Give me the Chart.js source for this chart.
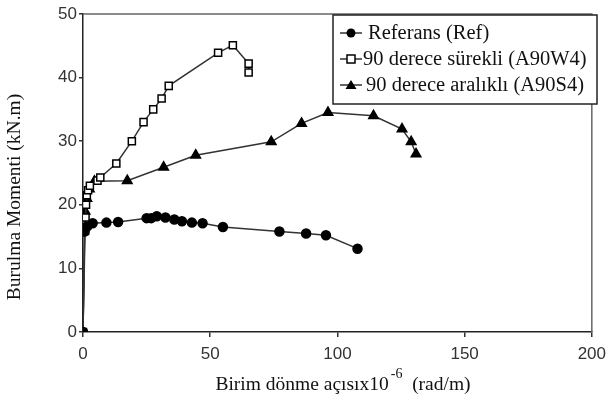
<!DOCTYPE html>
<html>
<head>
<meta charset="utf-8">
<script src="https://cdn.jsdelivr.net/npm/chart.js@4/dist/chart.umd.min.js"></script>
<style>
  html, body { margin: 0; padding: 0; background: #fff; }
  #wrap { width: 613px; height: 414px; }
</style>
</head>
<body>
<div id="wrap"><canvas id="c" width="613" height="414"></canvas></div>
<script>
// Unit rotation angle (x10^-6 rad/m) and torsional moment (kN.m) per specimen
const refX = [0, 0.6, 1.6, 3.8, 9.2, 13.8, 25.0, 26.8, 29.0, 32.4, 35.9, 38.9, 42.8, 47.0, 55.0, 77.2, 87.7, 95.5, 107.9];
const refY = [0, 15.8, 16.6, 17.1, 17.2, 17.3, 17.9, 17.9, 18.2, 18.0, 17.7, 17.4, 17.2, 17.1, 16.5, 15.8, 15.5, 15.2, 13.1];

const w4X = [0, 0.8, 1.0, 1.2, 1.5, 2.0, 2.7, 5.7, 6.8, 13.1, 19.2, 23.8, 27.6, 30.9, 33.7, 53.1, 58.9, 65.1, 65.1];
const w4Y = [0, 15.9, 18.0, 20.0, 21.5, 22.3, 23.0, 23.8, 24.3, 26.5, 30.0, 33.0, 35.0, 36.7, 38.7, 43.9, 45.1, 42.2, 40.8];

const s4X = [0, 0.8, 1.5, 2.5, 4.5, 17.4, 31.7, 44.3, 74.0, 85.9, 96.3, 114.2, 125.4, 129.0, 130.9];
const s4Y = [0, 19.0, 21.0, 22.5, 23.7, 23.8, 25.9, 27.8, 29.9, 32.8, 34.5, 34.0, 31.9, 29.9, 28.0];

const seriesNames = ['Referans (Ref)', '90 derece sürekli (A90W4)', '90 derece aralıklı (A90S4)'];
const xTicks = [0, 50, 100, 150, 200];
const yTicks = [0, 10, 20, 30, 40, 50];

const toPts = (xs, ys) => xs.map((x, i) => ({ x: x, y: ys[i] }));

const LINE = '#333';
const SERIF = '"Liberation Serif", "Times New Roman", serif';
const SANS = '"Liberation Sans", Arial, sans-serif';

// Draws a marker of the given style centred at (x, y)
function drawMarker(ctx, style, x, y) {
  ctx.save();
  ctx.lineWidth = 1.5;
  ctx.strokeStyle = '#000';
  ctx.fillStyle = '#000';
  if (style === 'circle') {
    ctx.beginPath(); ctx.arc(x, y, 4.5, 0, Math.PI * 2); ctx.fill();
  } else if (style === 'rect') {
    ctx.fillStyle = '#fff';
    ctx.fillRect(x - 4, y - 4, 8, 8);
    ctx.strokeRect(x - 4, y - 4, 8, 8);
  } else {
    ctx.beginPath();
    ctx.moveTo(x, y - 5); ctx.lineTo(x + 5.5, y + 4); ctx.lineTo(x - 5.5, y + 4);
    ctx.closePath(); ctx.fill();
  }
  ctx.restore();
}

const decor = {
  id: 'decor',
  afterDatasetsDraw(chart) {
    const ctx = chart.ctx;
    const a = chart.chartArea;
    ctx.save();
    // frame on top and right of the plot
    ctx.strokeStyle = '#666';
    ctx.lineWidth = 1.5;
    ctx.beginPath();
    ctx.moveTo(a.left, a.top); ctx.lineTo(a.right, a.top); ctx.lineTo(a.right, a.bottom);
    ctx.stroke();

    // legend box
    const lx = 333, ly = 15, lw = 264, lh = 89;
    ctx.fillStyle = '#fff';
    ctx.fillRect(lx, ly, lw, lh);
    ctx.strokeStyle = '#222';
    ctx.lineWidth = 1.5;
    ctx.strokeRect(lx, ly, lw, lh);
    const styles = ['circle', 'rect', 'triangle'];
    const rows = [33, 59, 85];
    const textX = [368, 363, 366];
    ctx.font = '20.5px ' + SERIF;
    ctx.textBaseline = 'middle';
    ctx.textAlign = 'left';
    rows.forEach((ry, i) => {
      ctx.strokeStyle = LINE;
      ctx.lineWidth = 1.5;
      ctx.beginPath(); ctx.moveTo(340, ry); ctx.lineTo(362, ry); ctx.stroke();
      drawMarker(ctx, styles[i], 351, ry);
      ctx.fillStyle = '#111';
      ctx.fillText(seriesNames[i], textX[i], ry + 1);
    });

    // x-axis title with superscript exponent
    ctx.fillStyle = '#111';
    ctx.textBaseline = 'alphabetic';
    const p1 = 'Birim dönme açısıx10', p2 = '-6', p3 = '  (rad/m)';
    ctx.font = '19.5px ' + SERIF;
    const w1 = ctx.measureText(p1).width;
    const w3 = ctx.measureText(p3).width;
    ctx.font = '14px ' + SERIF;
    const w2 = ctx.measureText(p2).width;
    let sx = 343 - (w1 + w2 + w3 + 2) / 2;
    ctx.font = '19.5px ' + SERIF;
    ctx.fillText(p1, sx, 390);
    ctx.font = '14px ' + SERIF;
    ctx.fillText(p2, sx + w1 + 2, 378);
    ctx.font = '19.5px ' + SERIF;
    ctx.fillText(p3, sx + w1 + w2 + 2, 390);

    // y-axis title
    ctx.translate(15, 197);
    ctx.rotate(-Math.PI / 2);
    ctx.textAlign = 'center';
    ctx.textBaseline = 'middle';
    ctx.fillText('Burulma Momenti (kN.m)', 0, 0);
    ctx.restore();
  }
};

const common = { borderColor: LINE, borderWidth: 1.5, showLine: true, pointBorderColor: '#000', pointBorderWidth: 1.5 };

new Chart(document.getElementById('c'), {
  type: 'scatter',
  data: {
    datasets: [
      Object.assign({ label: seriesNames[0], data: toPts(refX, refY), pointStyle: 'circle', pointRadius: 4.5, pointBackgroundColor: '#000' }, common),
      Object.assign({ label: seriesNames[1], data: toPts(w4X, w4Y), pointStyle: 'rect', pointRadius: 5, pointBackgroundColor: '#fff' }, common),
      Object.assign({ label: seriesNames[2], data: toPts(s4X, s4Y), pointStyle: 'triangle', pointRadius: 5.5, pointBackgroundColor: '#000' }, common)
    ]
  },
  options: {
    responsive: false,
    animation: false,
    layout: { padding: { top: 14, right: 16, left: 0, bottom: 0 } },
    plugins: { legend: { display: false }, tooltip: { enabled: false } },
    scales: {
      x: {
        type: 'linear', min: 0, max: 200,
        afterBuildTicks: s => { s.ticks = xTicks.map(v => ({ value: v })); },
        afterFit: s => { s.height = 82; },
        ticks: { font: { family: SANS, size: 17 }, color: '#333', padding: 7 },
        grid: { drawOnChartArea: false, drawTicks: true, tickLength: 5, color: '#333', lineWidth: 1.5 },
        border: { display: true, color: '#222', width: 1.5 }
      },
      y: {
        type: 'linear', min: 0, max: 50,
        afterBuildTicks: s => { s.ticks = yTicks.map(v => ({ value: v })); },
        afterFit: s => { s.width = 83; },
        ticks: { font: { family: SANS, size: 17 }, color: '#333', padding: 2 },
        grid: { drawOnChartArea: false, drawTicks: true, tickLength: 4, color: '#333', lineWidth: 1.5 },
        border: { display: true, color: '#222', width: 1.5 }
      }
    }
  },
  plugins: [decor]
});
</script>
</body>
</html>
